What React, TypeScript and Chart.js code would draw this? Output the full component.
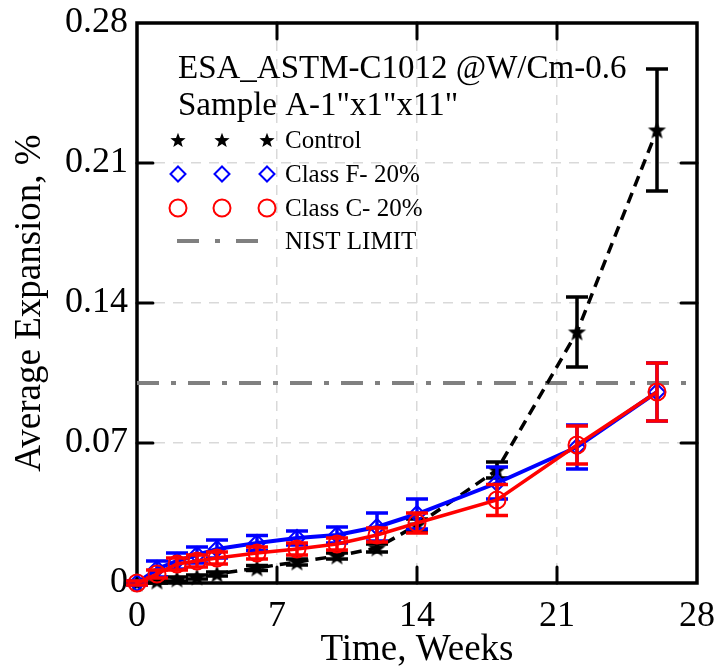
import React, { useEffect, useRef } from 'react';
import { Chart, registerables } from 'chart.js';

Chart.register(...registerables);

// ---- data ----
const weeks = [0, 1, 2, 3, 4, 6, 8, 10, 12, 14, 18, 22, 26];
const controlValues = [0, 0.001, 0.002, 0.003, 0.0045, 0.0075, 0.0105, 0.0135, 0.0175, 0.029, 0.0565, 0.1255, 0.2265];
const controlErrors = [0.0005, 0.001, 0.001, 0.001, 0.001, 0.0012, 0.0015, 0.0015, 0.002, 0.003, 0.004, 0.0175, 0.0305];
const classFValues = [0, 0.007, 0.011, 0.014, 0.017, 0.02, 0.0225, 0.024, 0.028, 0.0345, 0.05, 0.068, 0.0955];
const classFErrors = [0.001, 0.004, 0.004, 0.004, 0.0045, 0.0038, 0.0035, 0.004, 0.007, 0.0075, 0.008, 0.011, 0.0145];
const classCValues = [0, 0.0045, 0.0095, 0.011, 0.0125, 0.015, 0.017, 0.0195, 0.024, 0.03, 0.0415, 0.069, 0.0955];
const classCErrors = [0.001, 0.002, 0.003, 0.003, 0.003, 0.003, 0.003, 0.003, 0.0035, 0.005, 0.0078, 0.0095, 0.0145];
const nistWeeks = [0, 28];
const nistValues = [0.1, 0.1];
const xTicks = [0, 7, 14, 21, 28];
const yTicks = [0, 0.07, 0.14, 0.21, 0.28];
const titleLines = ['ESA_ASTM-C1012 @W/Cm-0.6', 'Sample A-1"x1"x11"'];
const seriesLabels = ['Control', 'Class F- 20%', 'Class C- 20%', 'NIST LIMIT'];
const xTitle = 'Time, Weeks';
const yTitle = 'Average Expansion, %';

const FONT = '"Liberation Serif", "Times New Roman", serif';
const BLUE = '#0000ff';
const RED = '#ff0000';
const BLACK = '#000000';
const GRAY = '#808080';

function makeStar(r: number, color: string): HTMLCanvasElement {
  const size = Math.ceil(r * 2 + 2);
  const c = document.createElement('canvas');
  c.width = size;
  c.height = size;
  const ctx = c.getContext('2d')!;
  const cx = size / 2;
  const cy = size / 2 + r * 0.08;
  ctx.beginPath();
  for (let i = 0; i < 10; i++) {
    const rad = i % 2 === 0 ? r : r * 0.42;
    const a = -Math.PI / 2 + (i * Math.PI) / 5;
    const x = cx + rad * Math.cos(a);
    const y = cy + rad * Math.sin(a);
    if (i === 0) ctx.moveTo(x, y);
    else ctx.lineTo(x, y);
  }
  ctx.closePath();
  ctx.fillStyle = color;
  ctx.fill();
  return c;
}

const errorBarPlugin = {
  id: 'errorBars',
  afterDatasetDraw(chart: any, args: any) {
    const ds = chart.data.datasets[args.index];
    const errs: number[] | undefined = ds.errors;
    if (!errs) return;
    const yScale = chart.scales.y;
    const ctx = chart.ctx;
    ctx.save();
    ctx.strokeStyle = ds.borderColor;
    ctx.lineWidth = 3.5;
    ctx.setLineDash([]);
    ctx.lineCap = 'butt';
    args.meta.data.forEach((pt: any, i: number) => {
      const v = ds.data[i].y;
      const e = errs[i];
      const top = yScale.getPixelForValue(v + e);
      const bot = yScale.getPixelForValue(v - e);
      const x = pt.x;
      const w = 11;
      ctx.beginPath();
      ctx.moveTo(x, top);
      ctx.lineTo(x, bot);
      ctx.moveTo(x - w, top);
      ctx.lineTo(x + w, top);
      ctx.moveTo(x - w, bot);
      ctx.lineTo(x + w, bot);
      ctx.stroke();
    });
    ctx.restore();
  },
};

const framePlugin = {
  id: 'frame',
  beforeDatasetsDraw(chart: any) {
    const { ctx, chartArea: a, scales } = chart;
    const xs = scales.x;
    const ys = scales.y;
    ctx.save();
    ctx.strokeStyle = BLACK;
    ctx.setLineDash([]);
    ctx.lineWidth = 3.5;
    ctx.strokeRect(a.left, a.top, a.right - a.left, a.bottom - a.top);
    ctx.lineWidth = 3;
    ctx.lineCap = 'round';
    const L = 16;
    const seg = (x1: number, y1: number, x2: number, y2: number) => {
      ctx.beginPath();
      ctx.moveTo(x1, y1);
      ctx.lineTo(x2, y2);
      ctx.stroke();
    };
    xTicks.forEach((t) => {
      if (t === xTicks[0] || t === xTicks[xTicks.length - 1]) return;
      const px = xs.getPixelForValue(t);
      seg(px, a.bottom, px, a.bottom - L);
      seg(px, a.top, px, a.top + L);
    });
    yTicks.forEach((t) => {
      if (t === yTicks[0] || t === yTicks[yTicks.length - 1]) return;
      const py = ys.getPixelForValue(t);
      seg(a.left, py, a.left + L, py);
      seg(a.right, py, a.right - L, py);
    });
    ctx.restore();
  },
};

const legendPlugin = {
  id: 'customLegend',
  afterDatasetsDraw(chart: any) {
    const { ctx, chartArea: a } = chart;
    ctx.save();
    ctx.fillStyle = BLACK;
    ctx.textAlign = 'left';
    ctx.textBaseline = 'alphabetic';
    ctx.font = `33px ${FONT}`;
    const tx = a.left + 41;
    ctx.fillText(titleLines[0], tx, a.top + 55);
    ctx.fillText(titleLines[1], tx, a.top + 92);

    const rows = [a.top + 117, a.top + 151, a.top + 185, a.top + 218];
    const mx = [a.left + 41, a.left + 85, a.left + 130];
    const star = makeStar(8, BLACK);
    mx.forEach((x) => ctx.drawImage(star, x - star.width / 2, rows[0] - star.height / 2));
    ctx.strokeStyle = BLUE;
    ctx.lineWidth = 2;
    mx.forEach((x) => {
      const r = 7.5;
      const y = rows[1];
      ctx.beginPath();
      ctx.moveTo(x, y - r);
      ctx.lineTo(x + r, y);
      ctx.lineTo(x, y + r);
      ctx.lineTo(x - r, y);
      ctx.closePath();
      ctx.stroke();
    });
    ctx.strokeStyle = RED;
    mx.forEach((x) => {
      ctx.beginPath();
      ctx.arc(x, rows[2], 8.5, 0, Math.PI * 2);
      ctx.stroke();
    });
    ctx.strokeStyle = GRAY;
    ctx.lineWidth = 4;
    ctx.lineCap = 'butt';
    ctx.setLineDash([22, 16, 5, 16]);
    ctx.beginPath();
    ctx.moveTo(a.left + 40, rows[3]);
    ctx.lineTo(a.left + 121, rows[3]);
    ctx.stroke();
    ctx.setLineDash([]);

    ctx.fillStyle = BLACK;
    ctx.font = `25px ${FONT}`;
    seriesLabels.forEach((label, i) => {
      ctx.fillText(label, a.left + 148, rows[i] + 8);
    });
    ctx.restore();
  },
};

export default function App() {
  const canvasRef = useRef<HTMLCanvasElement | null>(null);

  useEffect(() => {
    const canvas = canvasRef.current;
    if (!canvas) return;
    const starPoint = makeStar(9.5, BLACK);
    const toPts = (xs: number[], ys: number[]) => xs.map((x, i) => ({ x, y: ys[i] }));

    const chart = new Chart(canvas, {
      type: 'line',
      data: {
        datasets: [
          {
            label: seriesLabels[3],
            data: toPts(nistWeeks, nistValues),
            borderColor: GRAY,
            borderWidth: 4,
            borderDash: [22, 12, 5, 12],
            pointRadius: 0,
            order: 4,
            clip: false,
          } as any,
          {
            label: seriesLabels[0],
            data: toPts(weeks, controlValues),
            errors: controlErrors,
            borderColor: BLACK,
            borderWidth: 3.5,
            borderDash: [11, 7],
            pointStyle: starPoint,
            pointRadius: 9,
            order: 3,
            clip: false,
          } as any,
          {
            label: seriesLabels[1],
            data: toPts(weeks, classFValues),
            errors: classFErrors,
            borderColor: BLUE,
            borderWidth: 4,
            pointStyle: 'rectRot',
            pointRadius: 8,
            pointBorderWidth: 2,
            pointBorderColor: BLUE,
            pointBackgroundColor: 'rgba(0,0,0,0)',
            order: 2,
            clip: false,
          } as any,
          {
            label: seriesLabels[2],
            data: toPts(weeks, classCValues),
            errors: classCErrors,
            borderColor: RED,
            borderWidth: 3.5,
            pointStyle: 'circle',
            pointRadius: 8.5,
            pointBorderWidth: 2,
            pointBorderColor: RED,
            pointBackgroundColor: 'rgba(0,0,0,0)',
            order: 1,
            clip: false,
          } as any,
        ],
      },
      options: {
        animation: false,
        responsive: false,
        devicePixelRatio: 1,
        layout: { padding: { top: 23, right: 20, left: 0, bottom: 0 } },
        plugins: {
          legend: { display: false },
          tooltip: { enabled: false },
        },
        scales: {
          x: {
            type: 'linear',
            min: 0,
            max: 28,
            afterBuildTicks: (scale: any) => {
              scale.ticks = xTicks.map((v) => ({ value: v }));
            },
            afterFit: (scale: any) => {
              scale.height = 89;
              scale.paddingLeft = 0;
              scale.paddingRight = 0;
            },
            grid: { color: '#d9d9d9', lineWidth: 1.5, drawTicks: false },
            border: { display: false, dash: [10, 8] },
            ticks: {
              color: BLACK,
              font: { family: FONT, size: 36 },
              padding: 12,
              maxRotation: 0,
              callback: (v: any) => String(v),
            },
            title: {
              display: true,
              text: xTitle,
              color: BLACK,
              font: { family: FONT, size: 37 },
              padding: { top: 0, bottom: 0 },
            },
          },
          y: {
            type: 'linear',
            min: 0,
            max: 0.28,
            afterBuildTicks: (scale: any) => {
              scale.ticks = yTicks.map((v) => ({ value: v }));
            },
            afterFit: (scale: any) => {
              scale.width = 137;
              scale.paddingTop = 0;
              scale.paddingBottom = 0;
            },
            grid: { color: '#d9d9d9', lineWidth: 1.5, drawTicks: false },
            border: { display: false, dash: [10, 8] },
            ticks: {
              color: BLACK,
              font: { family: FONT, size: 36 },
              padding: 9,
              callback: (v: any) => (Number(v) === 0 ? '0' : Number(v).toFixed(2)),
            },
            title: {
              display: true,
              text: yTitle,
              color: BLACK,
              font: { family: FONT, size: 37 },
              padding: { top: 8, bottom: 0 },
            },
          },
        },
      } as any,
      plugins: [framePlugin, errorBarPlugin, legendPlugin],
    });
    return () => chart.destroy();
  }, []);

  return (
    <div style={{ position: 'absolute', left: 0, top: 0, width: 717, height: 672, background: '#fff' }}>
      <canvas ref={canvasRef} width={717} height={672} style={{ display: 'block' }} />
    </div>
  );
}
